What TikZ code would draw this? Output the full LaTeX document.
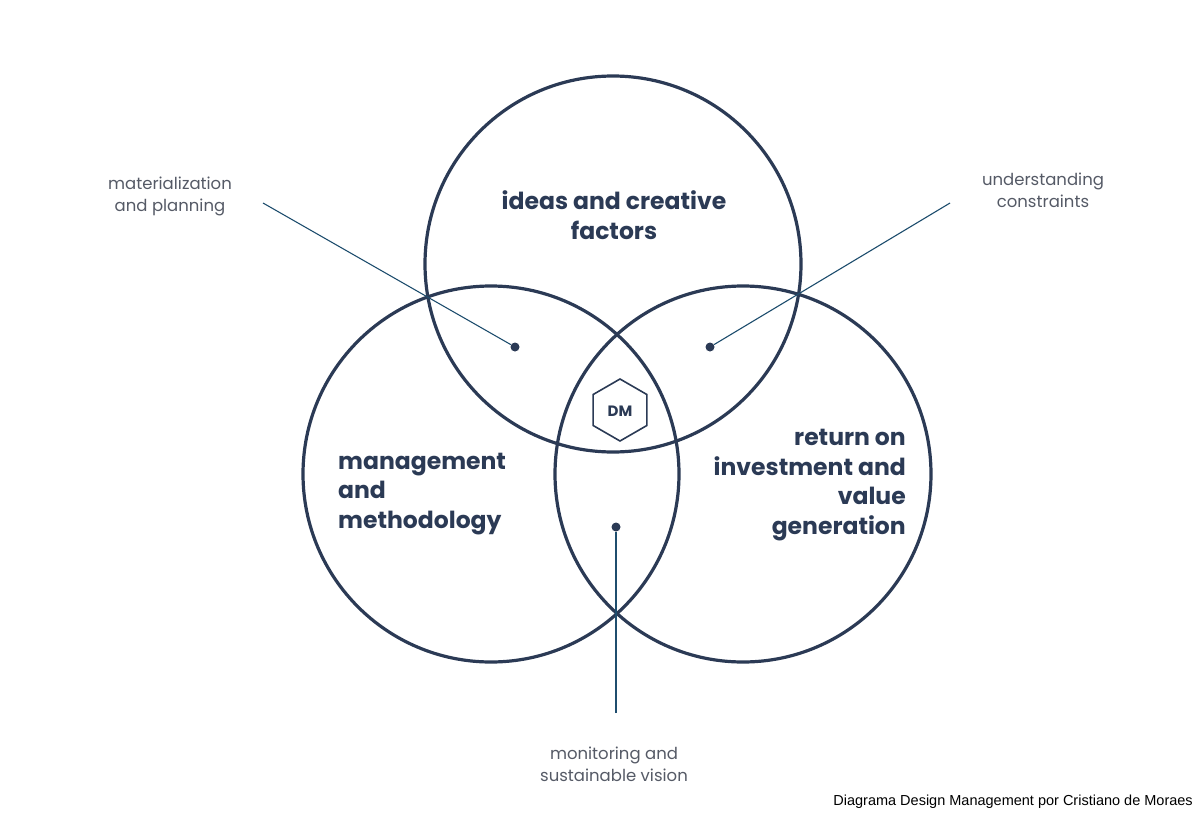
\documentclass[tikz,border=0pt]{standalone}
\usepackage{fontspec}
\setmainfont{Poppins}
\newfontfamily\arialf{Liberation Sans}
\usetikzlibrary{shapes.geometric}
\definecolor{navy}{HTML}{2B3A55}
\definecolor{lead}{HTML}{1F4E6E}
\definecolor{lbl}{HTML}{555A66}
\begin{document}
\begin{tikzpicture}[x=1pt,y=-1pt,
  circ/.style={draw=navy,line width=3.2pt},
  big/.style={text=navy,font=\fontsize{23.5}{29.5}\selectfont\bfseries,align=#1,inner sep=0},
  small/.style={text=lbl,font=\fontsize{16.5}{22}\selectfont,align=center,inner sep=0},
  leader/.style={draw=lead,line width=1.1pt},
  dot/.style={circle,fill=navy,inner sep=0,minimum size=9pt}]
\useasboundingbox (0,0) rectangle (1200,838);
\draw[circ] (613,264) circle (188);
\draw[circ] (491,474) circle (188);
\draw[circ] (743,474) circle (188);
\node[big=center] (t) at (614,215) {ideas and creative\\factors};
\node[big=left,anchor=west] (l) at (338,494) {management\\and\\methodology};
\node[big=right,anchor=east] (r) at (906,485) {return on\\investment and\\value\\generation};
\node[regular polygon,regular polygon sides=6,shape border rotate=90,draw=navy,line width=1.6pt,minimum size=62pt,inner sep=0] (hex) at (620,410) {};
\node[text=navy,font=\fontsize{15}{15}\selectfont\bfseries] (dm) at (620,411) {DM};
\node[dot] (d1) at (515,347) {};
\node[dot] (d2) at (710,347) {};
\node[dot] (d3) at (616,527) {};
\node[small] (m1) at (170,196) {materialization\\and planning};
\node[small] (m2) at (1043,190) {understanding\\constraints};
\node[small] (m3) at (614,764) {monitoring and\\sustainable vision};
\coordinate (c1) at (263,203);
\coordinate (c2) at (950,203);
\coordinate (c3) at (616,713);
\draw[leader] (c1) -- (d1);
\draw[leader] (c2) -- (d2);
\draw[leader] (c3) -- (d3);
\node[anchor=east,font=\arialf\fontsize{14.5}{14.5}\selectfont,inner sep=0] (foot) at (1193,802) {Diagrama Design Management por Cristiano de Moraes};
\end{tikzpicture}
\end{document}
